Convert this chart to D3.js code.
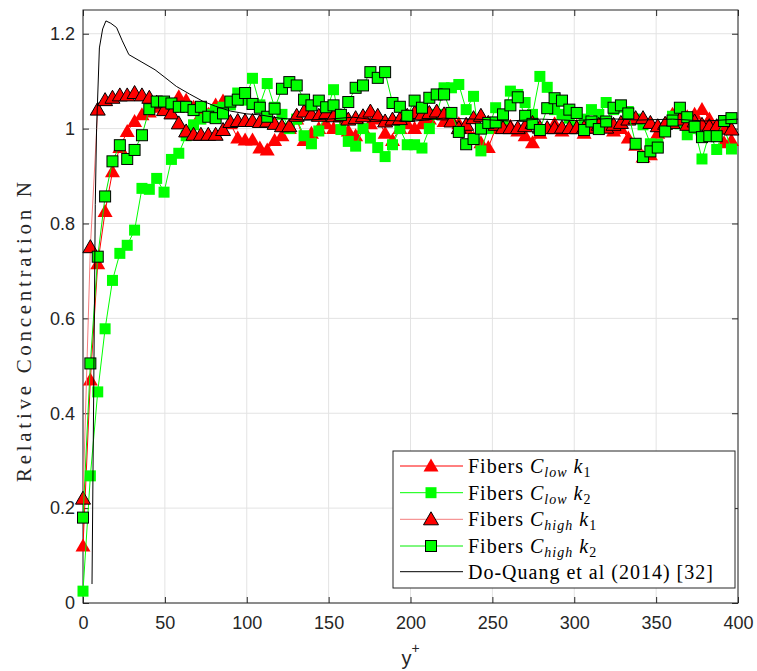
<!DOCTYPE html>
<html lang="en">
<head>
<meta charset="UTF-8">
<title>Relative Concentration N</title>
<style>
    body { margin: 0; background: #fff; }
    svg { display: block; }
    .tick text { font-family: "Liberation Sans", Arial, sans-serif; font-size: 18px; fill: #262626; }
</style>
</head>
<body>
<script src="https://cdn.jsdelivr.net/npm/d3@7"></script>
<script>
// y+ positions of the fibre samples
var yPlus = [0, 4.5, 9, 13.5, 18, 22.5, 27, 31.5, 36, 40.5,
    45, 49.5, 54, 58.5, 63, 67.5, 72, 76.5, 81, 85.5,
    90, 94.5, 99, 103.5, 108, 112.5, 117, 121.5, 126, 130.5,
    135, 139.5, 144, 148.5, 153, 157.5, 162, 166.5, 171, 175.5,
    180, 184.5, 189, 193.5, 198, 202.5, 207, 211.5, 216, 220.5,
    225, 229.5, 234, 238.5, 243, 247.5, 252, 256.5, 261, 265.5,
    270, 274.5, 279, 283.5, 288, 292.5, 297, 301.5, 306, 310.5,
    315, 319.5, 324, 328.5, 333, 337.5, 342, 346.5, 351, 355.5,
    360, 364.5, 369, 373.5, 378, 382.5, 387, 391.5, 396];

var lowK1 = [0.12, 0.47, 0.715, 0.825, 0.909, 0.96, 0.994, 1.015, 1.029, 1.035,
    1.045, 1.05, 1.045, 1.067, 1.06, 1.045, 1.03, 1.03, 1.05, 1.058,
    1.01, 0.98, 0.976, 0.976, 0.959, 0.955, 0.975, 0.985, 1.0, 1.02,
    0.975, 0.99, 1.0, 1.01, 1.0, 1.0, 0.995, 0.985, 1.0, 1.01,
    1.02, 0.99, 0.975, 1.0, 1.01, 1.0, 1.01, 1.02, 1.03, 1.015,
    1.02, 1.01, 1.0, 0.98, 0.97, 0.96, 1.0, 1.01, 1.005, 0.995,
    0.985, 0.97, 0.99, 1.0, 1.01, 0.995, 1.0, 1.005, 0.99, 1.0,
    1.01, 1.005, 0.995, 1.0, 0.98, 0.965, 0.94, 0.945, 0.99, 1.01,
    1.03, 1.035, 1.025, 1.03, 1.04, 1.02, 1.0, 0.97, 0.975];

var lowK2 = [0.025, 0.268, 0.445, 0.578, 0.68, 0.737, 0.754, 0.786, 0.874, 0.872,
    0.895, 0.866, 0.935, 0.948, 0.985, 1.008, 1.02, 1.03, 1.04, 1.045,
    1.05, 1.075, 1.06, 1.106, 1.05, 1.095, 1.045, 1.03, 1.0, 1.02,
    0.985, 0.968, 0.995, 1.035, 1.082, 0.998, 0.973, 0.963, 1.0, 0.98,
    0.96, 0.941, 0.966, 1.0, 0.966, 0.966, 0.959, 1.0, 1.03, 1.086,
    1.086, 1.093, 1.04, 1.068, 0.953, 1.0, 1.044, 1.02, 1.079, 1.072,
    1.055, 1.03, 1.11, 1.087, 1.04, 1.03, 1.022, 1.0, 1.02, 1.04,
    1.03, 1.055, 1.04, 1.045, 1.036, 1.02, 1.008, 0.968, 0.967, 1.001,
    1.026, 1.01, 0.987, 1.0, 0.936, 0.99, 0.956, 1.001, 0.957];

var highK1 = [0.22, 0.75, 1.04, 1.06, 1.065, 1.07, 1.07, 1.075, 1.07, 1.065,
    1.055, 1.039, 1.032, 1.011, 0.994, 0.987, 0.987, 0.987, 0.987, 0.997,
    1.014, 1.016, 1.016, 1.016, 1.014, 1.015, 1.01, 1.005, 1.005, 1.027,
    1.036, 1.03, 1.027, 1.033, 1.026, 1.026, 1.019, 1.022, 1.026, 1.036,
    1.027, 1.015, 1.019, 1.02, 1.027, 1.033, 1.03, 1.033, 1.036, 1.03,
    1.015, 1.001, 1.008, 1.022, 1.027, 1.012, 1.008, 1.001, 1.001, 1.001,
    1.005, 1.012, 1.002, 1.001, 1.001, 1.002, 1.001, 1.001, 1.002, 1.002,
    1.008, 1.002, 1.008, 1.012, 1.019, 1.022, 1.022, 1.012, 1.005, 1.01,
    1.012, 1.019, 1.008, 1.015, 1.008, 1.005, 1.005, 1.0, 0.998];

var highK2 = [0.18, 0.505, 0.73, 0.857, 0.931, 0.965, 0.936, 0.955, 0.986, 1.041,
    1.057, 1.057, 1.053, 1.046, 1.046, 1.039, 1.046, 1.025, 1.022, 1.032,
    1.057, 1.061, 1.075, 1.052, 1.044, 1.025, 1.042, 1.084, 1.098, 1.091,
    1.061, 1.049, 1.059, 1.045, 1.049, 1.029, 1.056, 1.086, 1.091, 1.119,
    1.107, 1.119, 1.054, 1.046, 1.027, 1.059, 1.044, 1.065, 1.072, 1.072,
    1.033, 0.993, 0.967, 0.978, 1.0, 1.012, 1.013, 1.03, 1.049, 1.066,
    1.027, 1.01, 0.997, 1.043, 1.064, 1.059, 1.04, 1.033, 0.997, 1.015,
    0.999, 1.015, 1.044, 1.049, 1.032, 0.968, 0.94, 0.952, 0.96, 0.994,
    1.017, 1.044, 1.024, 1.004, 0.982, 0.984, 0.984, 1.016, 1.022];

// Do-Quang et al (2014) reference curve
var dqX = [5.5, 6.5, 7.5, 8.3, 10, 12, 14, 17, 20.5, 24,
    28, 36, 44, 50, 57, 65, 73, 81, 90, 100,
    108, 120, 135, 150, 165, 180, 200, 220, 240, 260,
    280, 300, 320, 340, 360, 380, 400];
var dqY = [0.04, 0.43, 0.84, 1.0, 1.17, 1.21, 1.227, 1.222, 1.213, 1.185,
    1.156, 1.14, 1.124, 1.108, 1.089, 1.073, 1.058, 1.047, 1.037, 1.031,
    1.029, 1.022, 1.018, 1.02, 1.024, 1.018, 1.015, 1.022, 1.02, 1.016,
    1.02, 1.017, 1.021, 1.018, 1.02, 1.016, 1.02];

var xTicks = [0, 50, 100, 150, 200, 250, 300, 350, 400];
var yTicks = [0, 0.2, 0.4, 0.6, 0.8, 1, 1.2];
var yTickLabels = ["0", "0.2", "0.4", "0.6", "0.8", "1", "1.2"];

var legendSub = ["low", "low", "high", "high"];
var legendK = ["1", "2", "1", "2"];
var legendLast = "Do-Quang et al (2014) [32]";

var width = 757, height = 671;
var plotL = 83, plotR = 738, plotT = 10, plotB = 603;
var serif = "'Liberation Serif', 'Times New Roman', serif";

var svg = d3.select("body").append("svg")
    .attr("width", width)
    .attr("height", height);

var x = d3.scaleLinear().domain([0, 400]).range([plotL, plotR]);
var y = d3.scaleLinear().domain([0, 1.25]).range([plotB, plotT]);

// grid
svg.append("g").selectAll("line").data(xTicks).enter().append("line")
    .attr("x1", d => x(d)).attr("x2", d => x(d))
    .attr("y1", plotT).attr("y2", plotB)
    .attr("stroke", "#e3e3e3").attr("stroke-width", 1);
svg.append("g").selectAll("line").data(yTicks).enter().append("line")
    .attr("x1", plotL).attr("x2", plotR)
    .attr("y1", d => y(d)).attr("y2", d => y(d))
    .attr("stroke", "#e3e3e3").attr("stroke-width", 1);

// axes (ticks pointing inward)
function styleAxis(g) {
    g.select(".domain").remove();
    g.selectAll(".tick line").attr("stroke", "#262626");
}
svg.append("g").attr("transform", "translate(0," + plotB + ")")
    .call(d3.axisBottom(x).tickValues(xTicks).tickSize(-6).tickPadding(13).tickFormat(d3.format("d")))
    .call(styleAxis);
svg.append("g").attr("transform", "translate(0," + plotT + ")")
    .call(d3.axisTop(x).tickValues(xTicks).tickSize(-6).tickFormat(""))
    .call(styleAxis);
svg.append("g").attr("transform", "translate(" + plotL + ",0)")
    .call(d3.axisLeft(y).tickValues(yTicks).tickSize(-6).tickPadding(8).tickFormat((d, i) => yTickLabels[i]))
    .call(styleAxis);
svg.append("g").attr("transform", "translate(" + plotR + ",0)")
    .call(d3.axisRight(y).tickValues(yTicks).tickSize(-6).tickFormat(""))
    .call(styleAxis);
svg.selectAll(".tick text").attr("font-family", null).attr("font-size", null);

svg.append("rect")
    .attr("x", plotL).attr("y", plotT)
    .attr("width", plotR - plotL).attr("height", plotB - plotT)
    .attr("fill", "none").attr("stroke", "#262626").attr("stroke-width", 1);

// clip for lines
svg.append("clipPath").attr("id", "plotclip").append("rect")
    .attr("x", plotL).attr("y", plotT).attr("width", plotR - plotL).attr("height", plotB - plotT);

var triPath = "M0,-7.5L7.5,5.5L-7.5,5.5Z";

var series = [
    {vals: lowK1, line: "#ff0000", fill: "#ff0000", edge: "none", shape: "tri"},
    {vals: lowK2, line: "#00ff00", fill: "#00ff00", edge: "none", shape: "sq"},
    {vals: highK1, line: "#f47c7c", fill: "#ff0000", edge: "#000", shape: "tri"},
    {vals: highK2, line: "#00ee00", fill: "#00ff00", edge: "#000", shape: "sq"}
];

var lineGen = d3.line()
    .x((d, i) => x(yPlus[i]))
    .y(d => y(d));

function drawMarker(g, shape, fill, edge) {
    if (shape === "tri") {
        g.append("path").attr("d", triPath)
            .attr("fill", fill)
            .attr("stroke", edge)
            .attr("stroke-width", edge === "none" ? 0 : 1);
    } else {
        g.append("rect").attr("x", -5.5).attr("y", -5.5)
            .attr("width", 11).attr("height", 11)
            .attr("fill", fill)
            .attr("stroke", edge)
            .attr("stroke-width", edge === "none" ? 0 : 1);
    }
}

series.forEach(function(s) {
    svg.append("path")
        .datum(s.vals)
        .attr("d", lineGen)
        .attr("fill", "none")
        .attr("stroke", s.line)
        .attr("stroke-width", 1)
        .attr("clip-path", "url(#plotclip)");
    svg.append("g").selectAll("g").data(s.vals).enter().append("g")
        .attr("transform", (d, i) => "translate(" + x(yPlus[i]) + "," + y(d) + ")")
        .each(function() { drawMarker(d3.select(this), s.shape, s.fill, s.edge); });
});

// Do-Quang line
svg.append("path")
    .datum(dqY)
    .attr("d", d3.line().x((d, i) => x(dqX[i])).y(d => y(d)))
    .attr("fill", "none")
    .attr("stroke", "#000")
    .attr("stroke-width", 1)
    .attr("clip-path", "url(#plotclip)");

// axis labels
svg.append("text")
    .attr("transform", "translate(31,332) rotate(-90)")
    .attr("text-anchor", "middle")
    .attr("font-family", serif)
    .attr("font-size", 21)
    .attr("fill", "#262626")
    .attr("textLength", 300)
    .attr("lengthAdjust", "spacing")
    .text("Relative Concentration N");

var xl = svg.append("text")
    .attr("x", (plotL + plotR) / 2)
    .attr("y", 665)
    .attr("text-anchor", "middle")
    .attr("font-family", "'Liberation Sans', Arial, sans-serif")
    .attr("font-size", 20)
    .attr("fill", "#262626");
xl.append("tspan").text("y");
xl.append("tspan").attr("font-size", 14).attr("dy", -12).text("+");

// legend
var lg = svg.append("g");
lg.append("rect")
    .attr("x", 393).attr("y", 451)
    .attr("width", 342).attr("height", 137)
    .attr("fill", "#fff").attr("stroke", "#262626").attr("stroke-width", 1);

var rowY = [466, 492.7, 519.3, 546, 571.7];
series.forEach(function(s, i) {
    lg.append("line")
        .attr("x1", 400).attr("x2", 463)
        .attr("y1", rowY[i]).attr("y2", rowY[i])
        .attr("stroke", s.line).attr("stroke-width", 1);
    var mg = lg.append("g").attr("transform", "translate(431," + rowY[i] + ")");
    drawMarker(mg, s.shape, s.fill, s.edge);
    var t = lg.append("text")
        .attr("x", 468).attr("y", rowY[i] + 7)
        .attr("font-family", serif)
        .attr("font-size", 20)
        .attr("letter-spacing", 1);
    t.append("tspan").text("Fibers ");
    t.append("tspan").attr("font-style", "italic").text("C");
    t.append("tspan").attr("font-style", "italic").attr("font-size", 14).attr("dy", 4).text(legendSub[i]);
    t.append("tspan").attr("dy", -4).text(" ");
    t.append("tspan").attr("font-style", "italic").text("k");
    t.append("tspan").attr("font-size", 14).attr("dy", 4).text(legendK[i]);
});
lg.append("line")
    .attr("x1", 400).attr("x2", 463)
    .attr("y1", rowY[4]).attr("y2", rowY[4])
    .attr("stroke", "#000").attr("stroke-width", 1);
lg.append("text")
    .attr("x", 468).attr("y", rowY[4] + 7)
    .attr("font-family", serif)
    .attr("font-size", 20)
    .attr("letter-spacing", 1)
    .text(legendLast);
</script>
</body>
</html>
